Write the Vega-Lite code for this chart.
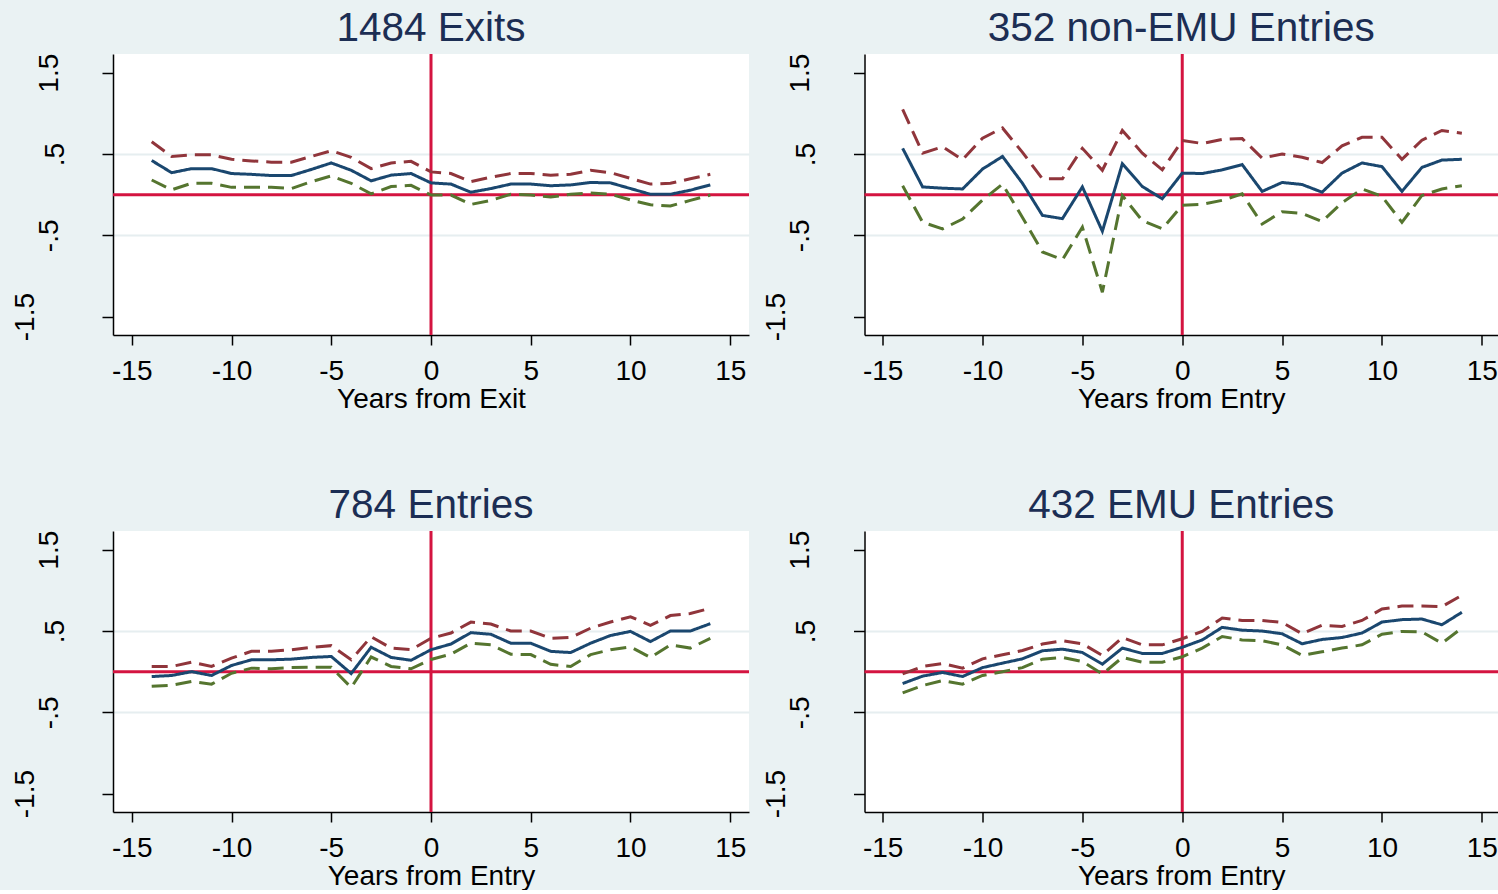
{
  "$schema": "https://vega.github.io/schema/vega-lite/v6.json",
  "background": "#EAF2F3",
  "padding": {"left": 11, "top": 9, "right": 0, "bottom": 0},
  "columns": 2,
  "bounds": "flush",
  "spacing": {"row": 196, "column": 115.5},
  "config": {
    "font": "Liberation Sans",
    "view": {"fill": "white", "stroke": null},
    "axis": {"domainColor": "#000", "domainWidth": 1.5, "tickColor": "#000", "tickWidth": 1.5, "labelColor": "#000", "titleColor": "#000", "labelFont": "Liberation Sans", "titleFont": "Liberation Sans", "labelFontSize": 28, "titleFontSize": 28, "titleFontWeight": "normal", "labelFlush": false, "labelOverlap": false},
    "axisX": {"tickSize": 10, "labelPadding": 12, "titlePadding": 0, "grid": false},
    "axisY": {"tickSize": 11, "labelAngle": -90, "gridColor": "#E6EEF0", "gridWidth": 2, "grid": true},
    "title": {"font": "Liberation Sans", "fontSize": 40.5, "fontWeight": "normal", "color": "#1C2E54", "anchor": "middle", "frame": "group", "baseline": "alphabetic", "offset": 3}
  },
  "datasets": {
    "exits": [
      {"t": -14, "b": 0.42, "u": 0.65, "l": 0.18},
      {"t": -13, "b": 0.27, "u": 0.47, "l": 0.06},
      {"t": -12, "b": 0.32, "u": 0.49, "l": 0.14},
      {"t": -11, "b": 0.32, "u": 0.49, "l": 0.14},
      {"t": -10, "b": 0.26, "u": 0.435, "l": 0.09},
      {"t": -9, "b": 0.25, "u": 0.415, "l": 0.09},
      {"t": -8, "b": 0.235, "u": 0.40, "l": 0.09},
      {"t": -7, "b": 0.235, "u": 0.40, "l": 0.075},
      {"t": -6, "b": 0.31, "u": 0.47, "l": 0.16},
      {"t": -5, "b": 0.39, "u": 0.54, "l": 0.23},
      {"t": -4, "b": 0.30, "u": 0.46, "l": 0.14},
      {"t": -3, "b": 0.17, "u": 0.32, "l": 0.01},
      {"t": -2, "b": 0.24, "u": 0.39, "l": 0.10},
      {"t": -1, "b": 0.26, "u": 0.41, "l": 0.115},
      {"t": 0, "b": 0.145, "u": 0.28, "l": -0.005},
      {"t": 1, "b": 0.13, "u": 0.26, "l": -0.005},
      {"t": 2, "b": 0.03, "u": 0.16, "l": -0.12},
      {"t": 3, "b": 0.075, "u": 0.215, "l": -0.07},
      {"t": 4, "b": 0.13, "u": 0.26, "l": 0.005},
      {"t": 5, "b": 0.13, "u": 0.26, "l": -0.005},
      {"t": 6, "b": 0.11, "u": 0.24, "l": -0.03},
      {"t": 7, "b": 0.12, "u": 0.25, "l": 0.005},
      {"t": 8, "b": 0.15, "u": 0.30, "l": 0.02},
      {"t": 9, "b": 0.145, "u": 0.27, "l": 0.005},
      {"t": 10, "b": 0.075, "u": 0.20, "l": -0.065},
      {"t": 11, "b": 0.005, "u": 0.13, "l": -0.125},
      {"t": 12, "b": 0.005, "u": 0.14, "l": -0.14},
      {"t": 13, "b": 0.055, "u": 0.195, "l": -0.07},
      {"t": 14, "b": 0.12, "u": 0.25, "l": -0.005}
    ],
    "nonemu": [
      {"t": -14, "b": 0.57, "u": 1.05, "l": 0.11},
      {"t": -13, "b": 0.095, "u": 0.51, "l": -0.34},
      {"t": -12, "b": 0.08, "u": 0.59, "l": -0.42},
      {"t": -11, "b": 0.07, "u": 0.43, "l": -0.30},
      {"t": -10, "b": 0.315, "u": 0.695, "l": -0.065},
      {"t": -9, "b": 0.47, "u": 0.82, "l": 0.13},
      {"t": -8, "b": 0.14, "u": 0.52, "l": -0.28},
      {"t": -7, "b": -0.255, "u": 0.195, "l": -0.705},
      {"t": -6, "b": -0.295, "u": 0.195, "l": -0.80},
      {"t": -5, "b": 0.095, "u": 0.57, "l": -0.40},
      {"t": -4, "b": -0.45, "u": 0.30, "l": -1.20},
      {"t": -3, "b": 0.38, "u": 0.79, "l": -0.01},
      {"t": -2, "b": 0.10, "u": 0.51, "l": -0.32},
      {"t": -1, "b": -0.05, "u": 0.305, "l": -0.42},
      {"t": 0, "b": 0.265, "u": 0.665, "l": -0.13},
      {"t": 1, "b": 0.26, "u": 0.63, "l": -0.12},
      {"t": 2, "b": 0.305, "u": 0.68, "l": -0.07},
      {"t": 3, "b": 0.37, "u": 0.69, "l": 0.01},
      {"t": 4, "b": 0.04, "u": 0.45, "l": -0.36},
      {"t": 5, "b": 0.15, "u": 0.50, "l": -0.21},
      {"t": 6, "b": 0.125, "u": 0.46, "l": -0.23},
      {"t": 7, "b": 0.03, "u": 0.395, "l": -0.33},
      {"t": 8, "b": 0.265, "u": 0.60, "l": -0.10},
      {"t": 9, "b": 0.39, "u": 0.705, "l": 0.07},
      {"t": 10, "b": 0.345, "u": 0.705, "l": -0.02},
      {"t": 11, "b": 0.04, "u": 0.435, "l": -0.34},
      {"t": 12, "b": 0.335, "u": 0.67, "l": -0.01},
      {"t": 13, "b": 0.425, "u": 0.79, "l": 0.07},
      {"t": 14, "b": 0.435, "u": 0.755, "l": 0.11}
    ],
    "entries": [
      {"t": -14, "b": -0.06, "u": 0.064, "l": -0.18},
      {"t": -13, "b": -0.047, "u": 0.064, "l": -0.166},
      {"t": -12, "b": 0.0, "u": 0.117, "l": -0.12},
      {"t": -11, "b": -0.047, "u": 0.064, "l": -0.154},
      {"t": -10, "b": 0.076, "u": 0.166, "l": -0.02},
      {"t": -9, "b": 0.146, "u": 0.25, "l": 0.043},
      {"t": -8, "b": 0.146, "u": 0.25, "l": 0.035},
      {"t": -7, "b": 0.154, "u": 0.27, "l": 0.05},
      {"t": -6, "b": 0.175, "u": 0.30, "l": 0.055},
      {"t": -5, "b": 0.187, "u": 0.32, "l": 0.055},
      {"t": -4, "b": -0.023, "u": 0.146, "l": -0.195},
      {"t": -3, "b": 0.30, "u": 0.43, "l": 0.18},
      {"t": -2, "b": 0.175, "u": 0.29, "l": 0.064},
      {"t": -1, "b": 0.14, "u": 0.27, "l": 0.035},
      {"t": 0, "b": 0.27, "u": 0.41, "l": 0.15},
      {"t": 1, "b": 0.34, "u": 0.475, "l": 0.215},
      {"t": 2, "b": 0.48, "u": 0.61, "l": 0.35},
      {"t": 3, "b": 0.46, "u": 0.585, "l": 0.33},
      {"t": 4, "b": 0.35, "u": 0.50, "l": 0.215},
      {"t": 5, "b": 0.35, "u": 0.50, "l": 0.21},
      {"t": 6, "b": 0.25, "u": 0.41, "l": 0.09},
      {"t": 7, "b": 0.235, "u": 0.42, "l": 0.064},
      {"t": 8, "b": 0.35, "u": 0.535, "l": 0.21},
      {"t": 9, "b": 0.445, "u": 0.61, "l": 0.27},
      {"t": 10, "b": 0.495, "u": 0.675, "l": 0.305},
      {"t": 11, "b": 0.37, "u": 0.57, "l": 0.175},
      {"t": 12, "b": 0.50, "u": 0.69, "l": 0.33},
      {"t": 13, "b": 0.50, "u": 0.715, "l": 0.29},
      {"t": 14, "b": 0.59, "u": 0.78, "l": 0.41}
    ],
    "emu": [
      {"t": -14, "b": -0.146, "u": -0.027, "l": -0.26},
      {"t": -13, "b": -0.055, "u": 0.064, "l": -0.17},
      {"t": -12, "b": -0.01, "u": 0.10, "l": -0.11},
      {"t": -11, "b": -0.06, "u": 0.043, "l": -0.154},
      {"t": -10, "b": 0.05, "u": 0.158, "l": -0.047},
      {"t": -9, "b": 0.105, "u": 0.207, "l": 0.0},
      {"t": -8, "b": 0.158, "u": 0.26, "l": 0.05},
      {"t": -7, "b": 0.257, "u": 0.34, "l": 0.154},
      {"t": -6, "b": 0.277, "u": 0.38, "l": 0.175},
      {"t": -5, "b": 0.236, "u": 0.343, "l": 0.125},
      {"t": -4, "b": 0.092, "u": 0.20, "l": -0.03},
      {"t": -3, "b": 0.29, "u": 0.42, "l": 0.175},
      {"t": -2, "b": 0.224, "u": 0.33, "l": 0.117},
      {"t": -1, "b": 0.224, "u": 0.33, "l": 0.117},
      {"t": 0, "b": 0.30, "u": 0.405, "l": 0.183},
      {"t": 1, "b": 0.39, "u": 0.495, "l": 0.29},
      {"t": 2, "b": 0.545, "u": 0.66, "l": 0.433},
      {"t": 3, "b": 0.51, "u": 0.63, "l": 0.39},
      {"t": 4, "b": 0.50, "u": 0.63, "l": 0.38},
      {"t": 5, "b": 0.466, "u": 0.605, "l": 0.33},
      {"t": 6, "b": 0.343, "u": 0.466, "l": 0.20},
      {"t": 7, "b": 0.396, "u": 0.57, "l": 0.244},
      {"t": 8, "b": 0.42, "u": 0.556, "l": 0.29},
      {"t": 9, "b": 0.475, "u": 0.63, "l": 0.33},
      {"t": 10, "b": 0.61, "u": 0.77, "l": 0.46},
      {"t": 11, "b": 0.64, "u": 0.807, "l": 0.495},
      {"t": 12, "b": 0.647, "u": 0.807, "l": 0.49},
      {"t": 13, "b": 0.577, "u": 0.80, "l": 0.35},
      {"t": 14, "b": 0.73, "u": 0.94, "l": 0.536}
    ]
  },
  "concat": [
    {
      "width": 636, "height": 281,
      "title": "1484 Exits",
      "layer": [
        {"data": {"values": [{}]}, "mark": {"type": "rule", "color": "#D41440", "strokeWidth": 3}, "encoding": {"y": {"datum": 0, "type": "quantitative"}}},
        {"data": {"values": [{}]}, "mark": {"type": "rule", "color": "#D41440", "strokeWidth": 3}, "encoding": {"x": {"datum": 0, "type": "quantitative"}}},
        {
          "data": {"name": "exits"},
          "transform": [{"fold": ["u", "l", "b"], "as": ["s", "v"]}],
          "mark": {"type": "line", "strokeWidth": 3},
          "encoding": {
            "x": {"field": "t", "type": "quantitative", "scale": {"domain": [-15.94, 15.94], "nice": false, "zero": false}, "axis": {"values": [-15, -10, -5, 0, 5, 10, 15], "labelExpr": "'' + datum.value", "title": "Years from Exit"}},
            "y": {"field": "v", "type": "quantitative", "scale": {"domain": [-1.726, 1.73], "nice": false, "zero": false}, "axis": {"values": [-1.5, -0.5, 0.5, 1.5], "title": null, "labelExpr": "datum.value == 0.5 ? '.5' : datum.value == -0.5 ? '-.5' : '' + datum.value", "labelPadding": {"condition": [{"test": "datum.value == -1.5", "value": 63}, {"test": "datum.value == 0.5", "value": 33}], "value": 39}, "gridOpacity": {"condition": {"test": "abs(datum.value) > 1", "value": 0}, "value": 1}}},
            "color": {"field": "s", "type": "nominal", "scale": {"domain": ["u", "b", "l"], "range": ["#90353B", "#1A476F", "#55752F"]}, "legend": null},
            "strokeDash": {"field": "s", "type": "nominal", "scale": {"domain": ["u", "b", "l"], "range": [[16, 8], [1, 0], [16, 8]]}, "legend": null}
          }
        }
      ]
    },
    {
      "width": 633.5, "height": 281,
      "title": "352 non-EMU Entries",
      "layer": [
        {"data": {"values": [{}]}, "mark": {"type": "rule", "color": "#D41440", "strokeWidth": 3}, "encoding": {"y": {"datum": 0, "type": "quantitative"}}},
        {"data": {"values": [{}]}, "mark": {"type": "rule", "color": "#D41440", "strokeWidth": 3}, "encoding": {"x": {"datum": 0, "type": "quantitative"}}},
        {
          "data": {"name": "nonemu"},
          "transform": [{"fold": ["u", "l", "b"], "as": ["s", "v"]}],
          "mark": {"type": "line", "strokeWidth": 3},
          "encoding": {
            "x": {"field": "t", "type": "quantitative", "scale": {"domain": [-15.91, 15.81], "nice": false, "zero": false}, "axis": {"values": [-15, -10, -5, 0, 5, 10, 15], "labelExpr": "'' + datum.value", "title": "Years from Entry"}},
            "y": {"field": "v", "type": "quantitative", "scale": {"domain": [-1.726, 1.73], "nice": false, "zero": false}, "axis": {"values": [-1.5, -0.5, 0.5, 1.5], "title": null, "labelExpr": "datum.value == 0.5 ? '.5' : datum.value == -0.5 ? '-.5' : '' + datum.value", "labelPadding": {"condition": [{"test": "datum.value == -1.5", "value": 63}, {"test": "datum.value == 0.5", "value": 33}], "value": 39}, "gridOpacity": {"condition": {"test": "abs(datum.value) > 1", "value": 0}, "value": 1}}},
            "color": {"field": "s", "type": "nominal", "scale": {"domain": ["u", "b", "l"], "range": ["#90353B", "#1A476F", "#55752F"]}, "legend": null},
            "strokeDash": {"field": "s", "type": "nominal", "scale": {"domain": ["u", "b", "l"], "range": [[16, 8], [1, 0], [16, 8]]}, "legend": null}
          }
        }
      ]
    },
    {
      "width": 636, "height": 281,
      "title": "784 Entries",
      "layer": [
        {"data": {"values": [{}]}, "mark": {"type": "rule", "color": "#D41440", "strokeWidth": 3}, "encoding": {"y": {"datum": 0, "type": "quantitative"}}},
        {"data": {"values": [{}]}, "mark": {"type": "rule", "color": "#D41440", "strokeWidth": 3}, "encoding": {"x": {"datum": 0, "type": "quantitative"}}},
        {
          "data": {"name": "entries"},
          "transform": [{"fold": ["u", "l", "b"], "as": ["s", "v"]}],
          "mark": {"type": "line", "strokeWidth": 3},
          "encoding": {
            "x": {"field": "t", "type": "quantitative", "scale": {"domain": [-15.94, 15.94], "nice": false, "zero": false}, "axis": {"values": [-15, -10, -5, 0, 5, 10, 15], "labelExpr": "'' + datum.value", "title": "Years from Entry"}},
            "y": {"field": "v", "type": "quantitative", "scale": {"domain": [-1.726, 1.73], "nice": false, "zero": false}, "axis": {"values": [-1.5, -0.5, 0.5, 1.5], "title": null, "labelExpr": "datum.value == 0.5 ? '.5' : datum.value == -0.5 ? '-.5' : '' + datum.value", "labelPadding": {"condition": [{"test": "datum.value == -1.5", "value": 63}, {"test": "datum.value == 0.5", "value": 33}], "value": 39}, "gridOpacity": {"condition": {"test": "abs(datum.value) > 1", "value": 0}, "value": 1}}},
            "color": {"field": "s", "type": "nominal", "scale": {"domain": ["u", "b", "l"], "range": ["#90353B", "#1A476F", "#55752F"]}, "legend": null},
            "strokeDash": {"field": "s", "type": "nominal", "scale": {"domain": ["u", "b", "l"], "range": [[16, 8], [1, 0], [16, 8]]}, "legend": null}
          }
        }
      ]
    },
    {
      "width": 633.5, "height": 281,
      "title": "432 EMU Entries",
      "layer": [
        {"data": {"values": [{}]}, "mark": {"type": "rule", "color": "#D41440", "strokeWidth": 3}, "encoding": {"y": {"datum": 0, "type": "quantitative"}}},
        {"data": {"values": [{}]}, "mark": {"type": "rule", "color": "#D41440", "strokeWidth": 3}, "encoding": {"x": {"datum": 0, "type": "quantitative"}}},
        {
          "data": {"name": "emu"},
          "transform": [{"fold": ["u", "l", "b"], "as": ["s", "v"]}],
          "mark": {"type": "line", "strokeWidth": 3},
          "encoding": {
            "x": {"field": "t", "type": "quantitative", "scale": {"domain": [-15.91, 15.81], "nice": false, "zero": false}, "axis": {"values": [-15, -10, -5, 0, 5, 10, 15], "labelExpr": "'' + datum.value", "title": "Years from Entry"}},
            "y": {"field": "v", "type": "quantitative", "scale": {"domain": [-1.726, 1.73], "nice": false, "zero": false}, "axis": {"values": [-1.5, -0.5, 0.5, 1.5], "title": null, "labelExpr": "datum.value == 0.5 ? '.5' : datum.value == -0.5 ? '-.5' : '' + datum.value", "labelPadding": {"condition": [{"test": "datum.value == -1.5", "value": 63}, {"test": "datum.value == 0.5", "value": 33}], "value": 39}, "gridOpacity": {"condition": {"test": "abs(datum.value) > 1", "value": 0}, "value": 1}}},
            "color": {"field": "s", "type": "nominal", "scale": {"domain": ["u", "b", "l"], "range": ["#90353B", "#1A476F", "#55752F"]}, "legend": null},
            "strokeDash": {"field": "s", "type": "nominal", "scale": {"domain": ["u", "b", "l"], "range": [[16, 8], [1, 0], [16, 8]]}, "legend": null}
          }
        }
      ]
    }
  ]
}
